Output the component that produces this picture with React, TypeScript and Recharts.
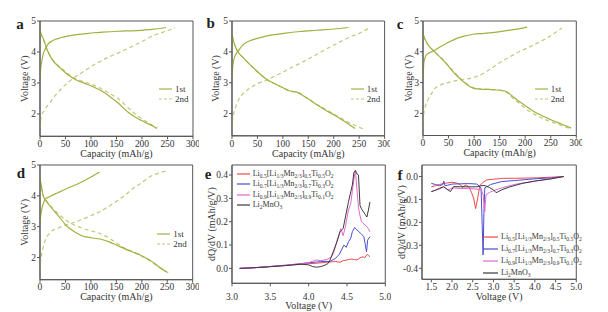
import React from "react";
import { LineChart, Line, XAxis, YAxis, ReferenceArea } from "recharts";

type Pt = [number, number];

// capacity (mAh/g) vs voltage (V)
const aCharge1: Pt[] = [[0, 3.05], [1, 3.4], [3, 3.65], [6.6, 3.95], [11, 4.12], [16.5, 4.27], [23, 4.35], [30, 4.41], [40, 4.46], [56, 4.52], [72, 4.56], [89, 4.59], [105, 4.62], [122, 4.64], [155, 4.67], [188, 4.69], [221, 4.73], [247, 4.79]];
const aDischarge1: Pt[] = [[0, 4.7], [3, 4.55], [6.6, 4.43], [13, 4.11], [23, 3.78], [32, 3.6], [40, 3.48], [56, 3.25], [72, 3.09], [89, 2.98], [105, 2.87], [122, 2.73], [138, 2.55], [155, 2.33], [171, 2.08], [188, 1.89], [204, 1.75], [221, 1.61], [229, 1.53]];
const aCharge2: Pt[] = [[0, 1.55], [1, 1.75], [3.3, 1.96], [8, 2.1], [13, 2.23], [20, 2.38], [30, 2.6], [43, 2.83], [56, 3.03], [72, 3.23], [89, 3.41], [105, 3.58], [122, 3.73], [138, 3.86], [155, 3.98], [171, 4.1], [188, 4.24], [205, 4.38], [221, 4.52], [243, 4.65], [265, 4.77]];
const aDischarge2: Pt[] = [[0, 4.6], [6.6, 4.4], [13, 4.1], [23, 3.8], [40, 3.5], [56, 3.28], [72, 3.12], [89, 3.03], [105, 2.93], [122, 2.8], [138, 2.65], [155, 2.47], [171, 2.23], [188, 1.98], [204, 1.8], [221, 1.63], [230, 1.55]];

const bCharge1: Pt[] = [[0, 3.2], [1, 3.45], [3.3, 3.73], [7, 3.9], [13, 4.05], [23, 4.25], [35, 4.36], [46, 4.42], [69, 4.52], [102, 4.6], [134, 4.66], [167, 4.7], [200, 4.74], [229, 4.79]];
const bDischarge1: Pt[] = [[0, 4.6], [3, 4.35], [9.8, 4.05], [23, 3.8], [46, 3.42], [69, 3.1], [90, 2.92], [102, 2.82], [112, 2.74], [122, 2.71], [130, 2.68], [140, 2.58], [155, 2.42], [170, 2.25], [185, 2.1], [200, 1.96], [215, 1.81], [230, 1.65], [242, 1.52]];
const bCharge2: Pt[] = [[0, 1.5], [1, 1.75], [3, 1.97], [8, 2.25], [13, 2.45], [22, 2.65], [36, 2.83], [50, 2.97], [69, 3.09], [85, 3.22], [102, 3.36], [118, 3.5], [134, 3.63], [150, 3.77], [167, 3.92], [183, 4.07], [200, 4.22], [217, 4.36], [233, 4.49], [250, 4.6], [268, 4.76]];
const bDischarge2: Pt[] = [[0, 4.5], [9.8, 4.05], [23, 3.8], [46, 3.42], [69, 3.1], [90, 2.92], [102, 2.82], [115, 2.73], [130, 2.68], [145, 2.53], [160, 2.36], [175, 2.22], [190, 2.08], [205, 1.94], [220, 1.8], [235, 1.67], [250, 1.56], [258, 1.5]];

const cCharge1: Pt[] = [[0, 3.1], [0.8, 3.4], [1.6, 3.63], [4, 3.8], [6.6, 3.9], [14, 3.98], [23, 4.05], [35, 4.17], [49, 4.3], [64, 4.42], [79, 4.5], [98, 4.57], [120, 4.6], [144, 4.64], [160, 4.68], [177, 4.72], [195, 4.77], [204, 4.8]];
const cDischarge1: Pt[] = [[0, 4.6], [2, 4.5], [6.6, 4.32], [12, 4.18], [19.6, 4.05], [29, 3.9], [39, 3.73], [49, 3.55], [59, 3.35], [69, 3.18], [79, 3.03], [89, 2.9], [98, 2.82], [108, 2.79], [118, 2.78], [135, 2.77], [151, 2.75], [164, 2.7], [174, 2.57], [183, 2.45], [200, 2.25], [216, 2.07], [233, 1.92], [249, 1.8], [265, 1.69], [282, 1.58], [290, 1.52]];
const cCharge2: Pt[] = [[0, 1.5], [0.8, 1.75], [1.6, 2.0], [5, 2.25], [11, 2.48], [17, 2.65], [23, 2.8], [35, 2.93], [49, 3.0], [64, 3.06], [79, 3.1], [95, 3.15], [105, 3.2], [115, 3.27], [125, 3.37], [135, 3.47], [144, 3.58], [160, 3.74], [177, 3.9], [193, 4.04], [210, 4.17], [226, 4.3], [242, 4.44], [255, 4.58], [272, 4.77]];
const cDischarge2: Pt[] = [[0, 4.5], [6.6, 4.3], [19.6, 4.05], [39, 3.75], [59, 3.38], [79, 3.05], [98, 2.84], [118, 2.79], [151, 2.75], [164, 2.68], [174, 2.52], [190, 2.3], [205, 2.1], [220, 1.95], [235, 1.83], [250, 1.73], [265, 1.64], [280, 1.55], [290, 1.5]];

const dCharge1: Pt[] = [[0, 3.07], [1, 3.3], [3.3, 3.55], [6.5, 3.75], [9.8, 3.88], [19.6, 3.98], [35, 4.1], [52, 4.23], [69, 4.35], [85, 4.47], [101, 4.62], [117, 4.77]];
const dDischarge1: Pt[] = [[0, 4.55], [3, 4.3], [6.5, 3.99], [13, 3.82], [19.6, 3.67], [36, 3.35], [52, 3.03], [69, 2.82], [85, 2.69], [101, 2.64], [118, 2.6], [137, 2.5], [152, 2.39], [167, 2.28], [182, 2.18], [196, 2.09], [206, 2.0], [216, 1.91], [226, 1.8], [236, 1.67], [249, 1.53]];
const dCharge2: Pt[] = [[0, 1.57], [1, 1.8], [3.3, 2.1], [6.5, 2.35], [9.8, 2.53], [19.6, 2.8], [35, 2.95], [52, 3.06], [69, 3.15], [85, 3.25], [101, 3.36], [118, 3.49], [134, 3.65], [151, 3.83], [167, 4.02], [183, 4.24], [200, 4.43], [216, 4.62], [232, 4.73], [249, 4.81]];
const dDischarge2: Pt[] = [[0, 4.5], [6.5, 4.0], [19.6, 3.7], [36, 3.42], [52, 3.2], [69, 3.04], [85, 2.94], [101, 2.86], [118, 2.78], [137, 2.62], [152, 2.45], [167, 2.3], [182, 2.18], [196, 2.07], [210, 1.95], [226, 1.78], [240, 1.62], [252, 1.5]];

// voltage (V) vs dQ/dV, charge
const eLi05: Pt[] = [[3.1, 0], [3.2, 0.001], [3.3, 0.003], [3.4, 0.005], [3.5, 0.008], [3.6, 0.01], [3.7, 0.012], [3.8, 0.015], [3.9, 0.017], [4.0, 0.02], [4.1, 0.022], [4.2, 0.025], [4.3, 0.028], [4.35, 0.03], [4.41, 0.026], [4.45, 0.033], [4.5, 0.036], [4.55, 0.04], [4.6, 0.038], [4.63, 0.036], [4.67, 0.045], [4.71, 0.05], [4.73, 0.045], [4.755, 0.057], [4.77, 0.06], [4.78, 0.055], [4.8, 0.05]];
const eLi07: Pt[] = [[3.1, 0], [3.3, 0.003], [3.5, 0.008], [3.7, 0.013], [3.9, 0.02], [4.0, 0.024], [4.1, 0.027], [4.2, 0.03], [4.28, 0.03], [4.35, 0.043], [4.4, 0.06], [4.46, 0.1], [4.49, 0.09], [4.52, 0.114], [4.55, 0.13], [4.57, 0.157], [4.6, 0.175], [4.63, 0.165], [4.655, 0.157], [4.68, 0.15], [4.7, 0.143], [4.72, 0.136], [4.74, 0.1], [4.755, 0.071], [4.77, 0.121], [4.8, 0.136]];
const eLi09: Pt[] = [[3.1, 0], [3.3, 0.003], [3.5, 0.008], [3.7, 0.014], [3.9, 0.02], [4.0, 0.025], [4.05, 0.03], [4.1, 0.036], [4.15, 0.033], [4.2, 0.035], [4.25, 0.04], [4.3, 0.05], [4.33, 0.07], [4.37, 0.12], [4.4, 0.15], [4.42, 0.17], [4.45, 0.14], [4.48, 0.18], [4.52, 0.25], [4.55, 0.28], [4.57, 0.33], [4.59, 0.38], [4.61, 0.42], [4.63, 0.34], [4.65, 0.26], [4.67, 0.225], [4.69, 0.2], [4.71, 0.193], [4.74, 0.185], [4.76, 0.178], [4.78, 0.17], [4.8, 0.157]];
const eLi2MnO3: Pt[] = [[3.1, 0], [3.3, 0.003], [3.5, 0.007], [3.7, 0.012], [3.9, 0.018], [4.0, 0.015], [4.05, 0.008], [4.1, 0.005], [4.15, 0.007], [4.2, 0.012], [4.25, 0.02], [4.28, 0.036], [4.32, 0.071], [4.37, 0.114], [4.41, 0.157], [4.45, 0.171], [4.48, 0.22], [4.52, 0.286], [4.57, 0.357], [4.59, 0.41], [4.61, 0.42], [4.63, 0.405], [4.65, 0.4], [4.67, 0.27], [4.69, 0.255], [4.72, 0.24], [4.74, 0.23], [4.76, 0.22], [4.78, 0.25], [4.8, 0.285]];

// voltage (V) vs dQ/dV, discharge
const fLi05: Pt[] = [[1.5, -0.045], [1.6, -0.04], [1.7, -0.035], [1.8, -0.03], [1.9, -0.028], [2.0, -0.025], [2.1, -0.028], [2.2, -0.035], [2.25, -0.048], [2.3, -0.04], [2.35, -0.037], [2.42, -0.05], [2.47, -0.07], [2.52, -0.094], [2.57, -0.14], [2.62, -0.094], [2.67, -0.04], [2.75, -0.025], [2.84, -0.015], [3.0, -0.012], [3.24, -0.008], [3.5, -0.008], [4.04, -0.006], [4.4, -0.003], [4.7, 0]];
const fLi07: Pt[] = [[1.5, -0.03], [1.6, -0.035], [1.7, -0.04], [1.78, -0.035], [1.8, -0.02], [1.83, -0.04], [1.9, -0.038], [2.0, -0.033], [2.2, -0.032], [2.4, -0.031], [2.6, -0.033], [2.7, -0.05], [2.72, -0.16], [2.75, -0.342], [2.77, -0.16], [2.79, -0.05], [2.93, -0.035], [3.2, -0.022], [3.5, -0.018], [4.0, -0.01], [4.4, -0.006], [4.7, 0]];
const fLi09: Pt[] = [[1.5, -0.066], [1.6, -0.06], [1.7, -0.055], [1.8, -0.044], [1.85, -0.05], [1.9, -0.06], [2.0, -0.05], [2.2, -0.052], [2.4, -0.052], [2.6, -0.055], [2.71, -0.058], [2.75, -0.08], [2.79, -0.153], [2.82, -0.08], [2.9, -0.07], [3.0, -0.062], [3.2, -0.05], [3.5, -0.035], [4.0, -0.02], [4.4, -0.01], [4.7, 0]];
const fLi2MnO3: Pt[] = [[1.5, -0.066], [1.6, -0.06], [1.7, -0.051], [1.8, -0.045], [1.84, -0.051], [1.9, -0.058], [1.96, -0.066], [2.04, -0.044], [2.2, -0.045], [2.4, -0.045], [2.6, -0.045], [2.7, -0.04], [2.8, -0.04], [2.9, -0.048], [3.0, -0.058], [3.06, -0.07], [3.1, -0.068], [3.2, -0.058], [3.4, -0.045], [3.7, -0.03], [4.0, -0.02], [4.4, -0.01], [4.7, 0]];

const capTicks = [0, 50, 100, 150, 200, 250, 300];
const voltTicks = [2, 3, 4, 5];
const eXTicks = [3.0, 3.5, 4.0, 4.5, 5.0];
const eYTicks = [0, 0.1, 0.2, 0.3, 0.4];
const fXTicks = [1.5, 2.0, 2.5, 3.0, 3.5, 4.0, 4.5, 5.0];
const fYTicks = [-0.4, -0.3, -0.2, -0.1, 0];
const cycleNames = ["1st", "2nd"];
const phaseNames = [
  "Li0.5[Li1/3Mn2/3]0.5Ti0.5O2",
  "Li0.7[Li1/3Mn2/3]0.7Ti0.3O2",
  "Li0.9[Li1/3Mn2/3]0.9Ti0.1O2",
  "Li2MnO3",
];

const OLIVE = "#a2b040";
const OLIVE_LIGHT = "#c2c878";
const DASH = "4 3";
const phaseColors = ["#f04a4a", "#4c4cd2", "#e068cc", "#3a3a3a"];
const AXIS = "#555";
const FONT = "'Liberation Serif', 'Times New Roman', serif";

type Series = { pts: Pt[]; color: string; dash?: string; width?: number; curve?: "monotone" | "linear" };

type PanelProps = {
  plot: { x: number; y: number; w: number; h: number };
  xDomain: [number, number];
  yDomain: [number, number];
  xTicks: number[];
  yTicks: number[];
  xLabel: string;
  yLabel: string;
  yLabelOffset: number;
  xLabelOffset: number;
  xTickMargin?: number;
  fmt?: (v: number) => string;
  series: Series[];
};

const YW = 40;
const XH = 30;
const MT = 8;
const MR = 6;

const toRows = (pts: Pt[]) => pts.map(([x, y]) => ({ x, y }));

const Panel = ({
  plot,
  xDomain,
  yDomain,
  xTicks,
  yTicks,
  xLabel,
  yLabel,
  yLabelOffset,
  xLabelOffset,
  xTickMargin = 1,
  fmt,
  series,
}: PanelProps) => (
  <div style={{ position: "absolute", left: plot.x - YW, top: plot.y - MT }}>
    <LineChart
      width={YW + plot.w + MR}
      height={MT + plot.h + XH}
      margin={{ top: MT, right: MR, bottom: 0, left: 0 }}
      style={{ fontFamily: FONT }}
    >
      <XAxis
        dataKey="x"
        type="number"
        domain={xDomain}
        ticks={xTicks}
        interval={0}
        height={XH}
        allowDataOverflow
        stroke={AXIS}
        tickSize={3}
        tickMargin={xTickMargin}
        tickFormatter={fmt}
        tick={{ fill: "#333", fontSize: 9.5, fontFamily: FONT }}
        label={{
          value: xLabel,
          position: "insideBottom",
          offset: xLabelOffset,
          fill: "#333",
          fontSize: 10,
          fontFamily: FONT,
        }}
      />
      <YAxis
        dataKey="y"
        type="number"
        domain={yDomain}
        ticks={yTicks}
        interval={0}
        width={YW}
        allowDataOverflow
        stroke={AXIS}
        tickSize={3}
        tickMargin={1}
        tickFormatter={fmt}
        tick={{ fill: "#333", fontSize: 9.5, fontFamily: FONT }}
        label={{
          value: yLabel,
          angle: -90,
          position: "insideLeft",
          offset: yLabelOffset,
          fill: "#333",
          fontSize: 10,
          fontFamily: FONT,
          style: { textAnchor: "middle" },
        }}
      />
      <ReferenceArea
        x1={xDomain[0]}
        x2={xDomain[1]}
        y1={yDomain[0]}
        y2={yDomain[1]}
        fill="none"
        stroke={AXIS}
        strokeWidth={1}
      />
      {series.map((s, i) => (
        <Line
          key={i}
          data={toRows(s.pts)}
          dataKey="y"
          type={s.curve ?? "monotone"}
          stroke={s.color}
          strokeWidth={s.width ?? 1.2}
          strokeDasharray={s.dash}
          dot={false}
          isAnimationActive={false}
        />
      ))}
    </LineChart>
  </div>
);

const cycleSeries = (c1: Pt[], d1: Pt[], c2: Pt[], d2: Pt[]): Series[] => [
  { pts: c2, color: OLIVE_LIGHT, dash: DASH },
  { pts: d2, color: OLIVE_LIGHT, dash: DASH },
  { pts: c1, color: OLIVE },
  { pts: d1, color: OLIVE },
];

const phaseSeries = (lists: Pt[][]): Series[] =>
  lists.map((pts, i) => ({ pts, color: phaseColors[i], width: 1, curve: "linear" }));

// numbers after an element or bracket are subscripts
const Formula = ({ text }: { text: string }) => (
  <span>
    {text.split(/([\d./]+)/).map((part, i) =>
      i % 2 ? (
        <span key={i} style={{ fontSize: 5.5, verticalAlign: "-2px" }}>
          {part}
        </span>
      ) : (
        <span key={i}>{part}</span>
      )
    )}
  </span>
);

const CycleLegend = ({ x, y }: { x: number; y: number }) => (
  <div style={{ position: "absolute", left: x, top: y, fontSize: 9, color: "#333" }}>
    {cycleNames.map((name, i) => (
      <div key={name} style={{ display: "flex", alignItems: "center", height: 9.7 }}>
        <svg width={13} height={4} style={{ marginRight: 3 }}>
          <line
            x1={0}
            y1={2}
            x2={13}
            y2={2}
            stroke={i ? OLIVE_LIGHT : OLIVE}
            strokeWidth={1.2}
            strokeDasharray={i ? "3 2" : undefined}
          />
        </svg>
        <span>{name}</span>
      </div>
    ))}
  </div>
);

const PhaseLegend = ({ x, y, row, sample }: { x: number; y: number; row: number; sample: number }) => (
  <div style={{ position: "absolute", left: x, top: y, fontSize: 8, color: "#333", whiteSpace: "nowrap" }}>
    {phaseNames.map((name, i) => (
      <div key={name} style={{ display: "flex", alignItems: "center", height: row }}>
        <svg width={sample} height={4} style={{ marginRight: 3 }}>
          <line x1={0} y1={2} x2={sample} y2={2} stroke={phaseColors[i]} strokeWidth={1.2} />
        </svg>
        <Formula text={name} />
      </div>
    ))}
  </div>
);

const panelLetters: { t: string; x: number; y: number }[] = [
  { t: "a", x: 20, y: 29.3 },
  { t: "b", x: 210.7, y: 29 },
  { t: "c", x: 400, y: 29.3 },
  { t: "d", x: 21, y: 179 },
  { t: "e", x: 208, y: 179.3 },
  { t: "f", x: 400, y: 181 },
];

const voltDomain: [number, number] = [1.28, 5];
const capDomain: [number, number] = [0, 300];
const f1 = (v: number) => v.toFixed(1);

export default function App() {
  return (
    <div
      style={{
        position: "absolute",
        left: 0,
        top: 0,
        width: 608,
        height: 312,
        background: "#fff",
        fontFamily: FONT,
        overflow: "hidden",
      }}
    >
      <Panel
        plot={{ x: 40, y: 20.7, w: 153, h: 115.3 }}
        xDomain={capDomain}
        yDomain={voltDomain}
        xTicks={capTicks}
        yTicks={voltTicks}
        xLabel="Capacity (mAh/g)"
        yLabel="Voltage (V)"
        yLabelOffset={24}
        xLabelOffset={9.5}
        series={cycleSeries(aCharge1, aDischarge1, aCharge2, aDischarge2)}
      />
      <Panel
        plot={{ x: 231.7, y: 20.7, w: 152.6, h: 114.8 }}
        xDomain={capDomain}
        yDomain={voltDomain}
        xTicks={capTicks}
        yTicks={voltTicks}
        xLabel="Capacity (mAh/g)"
        yLabel="Voltage (V)"
        yLabelOffset={23.3}
        xLabelOffset={9.2}
        series={cycleSeries(bCharge1, bDischarge1, bCharge2, bDischarge2)}
      />
      <Panel
        plot={{ x: 422.7, y: 21, w: 153.3, h: 114.5 }}
        xDomain={capDomain}
        yDomain={voltDomain}
        xTicks={capTicks}
        yTicks={voltTicks}
        xLabel="Capacity (mAh/g)"
        yLabel="Voltage (V)"
        yLabelOffset={25}
        xLabelOffset={9}
        series={cycleSeries(cCharge1, cDischarge1, cCharge2, cDischarge2)}
      />
      <Panel
        plot={{ x: 40, y: 165.3, w: 152.7, h: 114.7 }}
        xDomain={capDomain}
        yDomain={voltDomain}
        xTicks={capTicks}
        yTicks={voltTicks}
        xLabel="Capacity (mAh/g)"
        yLabel="Voltage (V)"
        yLabelOffset={24}
        xLabelOffset={9.8}
        series={cycleSeries(dCharge1, dDischarge1, dCharge2, dDischarge2)}
      />
      <Panel
        plot={{ x: 231.7, y: 165, w: 153.3, h: 118.3 }}
        xDomain={[3, 5]}
        yDomain={[-0.064, 0.443]}
        xTicks={eXTicks}
        yTicks={eYTicks}
        xLabel="Voltage (V)"
        yLabel="dQ/dV (mAh/g/V)"
        yLabelOffset={19.5}
        xLabelOffset={3.8}
        xTickMargin={7}
        fmt={f1}
        series={phaseSeries([eLi05, eLi07, eLi09, eLi2MnO3])}
      />
      <Panel
        plot={{ x: 421.7, y: 165, w: 154.3, h: 114.3 }}
        xDomain={[1.275, 5]}
        yDomain={[-0.448, 0.05]}
        xTicks={fXTicks}
        yTicks={fYTicks}
        xLabel="Voltage (V)"
        yLabel="dQ/dV (mAh/g/V)"
        yLabelOffset={19.8}
        xLabelOffset={9.1}
        fmt={f1}
        series={phaseSeries([fLi05, fLi07, fLi09, fLi2MnO3])}
      />

      <CycleLegend x={159} y={84.5} />
      <CycleLegend x={350.7} y={84.5} />
      <CycleLegend x={534.7} y={84.5} />
      <CycleLegend x={157.3} y={229.5} />
      <PhaseLegend x={236.7} y={168.9} row={10.3} sample={13} />
      <PhaseLegend x={483} y={231.4} row={11.8} sample={15} />

      {panelLetters.map((p) => (
        <div
          key={p.t}
          style={{
            position: "absolute",
            left: p.x - 10,
            top: p.y - 12.6,
            width: 20,
            textAlign: "center",
            fontSize: 15,
            lineHeight: "15px",
            fontWeight: "bold",
            color: "#222",
          }}
        >
          {p.t}
        </div>
      ))}
    </div>
  );
}
